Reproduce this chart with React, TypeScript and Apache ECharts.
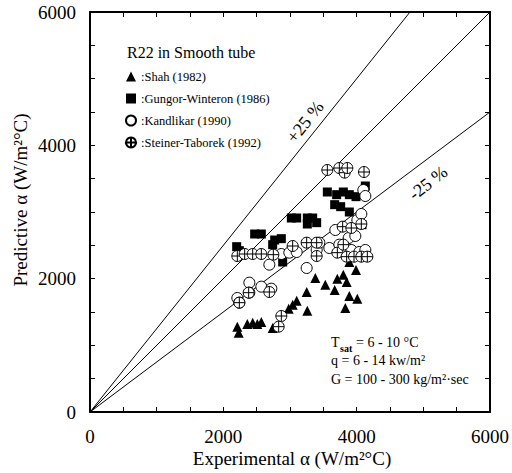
import React, { useEffect, useRef } from 'react';
import * as echarts from 'echarts';

const tickLabels = [0, 2000, 4000, 6000];

const shahX = [2210, 2230, 2360, 2440, 2510, 2570, 2740, 2800, 2980, 3040, 3100, 3250, 3260, 3380, 3530, 3670, 3710, 3800, 3850, 3830, 3890, 3990, 3890, 4010];
const shahY = [1280, 1190, 1320, 1340, 1320, 1350, 1260, 1280, 1550, 1610, 1670, 1800, 1520, 2010, 1910, 1830, 2000, 2060, 1950, 1560, 2250, 2130, 1740, 1700];

const gungorX = [2200, 2240, 2470, 2570, 2740, 2770, 2870, 2890, 3020, 3100, 3260, 3340, 3400, 3260, 3560, 3700, 3670, 3760, 3800, 3890, 3990, 3890, 4010, 4080, 4130];
const gungorY = [2480, 2420, 2670, 2670, 2510, 2580, 2600, 2250, 2910, 2910, 2910, 2910, 2840, 2820, 3300, 3260, 3110, 3080, 3300, 3260, 3230, 3000, 2820, 2810, 3390];

const kandX = [2210, 2240, 2390, 2390, 2570, 2720, 2690, 2870, 2990, 3100, 3250, 3400, 3440, 3590, 3680, 3740, 3800, 3880, 3920, 3980, 4010, 4070, 4040, 4130, 4100, 4130];
const kandY = [1710, 1640, 1940, 1790, 1880, 1850, 2210, 2370, 2390, 2400, 2160, 2430, 2540, 2460, 2730, 2510, 2400, 2610, 2430, 2640, 2880, 2970, 2400, 2430, 3330, 3240];

const steinerX = [2210, 2320, 2440, 2570, 2750, 2240, 2380, 2690, 2870, 2830, 3040, 3250, 3400, 3400, 3560, 3740, 3820, 3860, 4110, 3710, 3800, 3790, 3920, 3850, 3960, 4070, 4160, 4070];
const steinerY = [2340, 2370, 2370, 2370, 2360, 1640, 1790, 1800, 1440, 1280, 2490, 2540, 2540, 2340, 3630, 3660, 3590, 3660, 3600, 2390, 2510, 2780, 2760, 2330, 2330, 2330, 2330, 2820];

const seriesNames = ['Shah (1982)', 'Gungor-Winteron (1986)', 'Kandlikar (1990)', 'Steiner-Taborek (1992)'];
const lineFactors = [1, 1.25, 0.75];

const zip = (xs: number[], ys: number[]) => xs.map((x, i) => [x, ys[i]]);

export default function App() {
  const ref = useRef<HTMLDivElement>(null);
  useEffect(() => {
    const chart = echarts.init(ref.current!, null, { renderer: 'svg' });
    const fam = 'Liberation Serif';
    const font = 'Liberation Serif';
    const axisBase = (show: boolean, margin = 8) => ({
      type: 'value' as const,
      min: 0,
      max: 6000,
      interval: 500,
      axisLine: { show: true, onZero: false, lineStyle: { color: '#000', width: 2 } },
      axisTick: { show: true, inside: true, length: 5, lineStyle: { color: '#000', width: 1 } },
      splitLine: { show: false },
      axisLabel: {
        show,
        margin,
        color: '#000',
        fontFamily: fam,
        fontSize: 19,
        formatter: (v: number) => (tickLabels.includes(v) ? String(v) : ''),
      },
    });
    const refLines = lineFactors.map((f) => ({
      type: 'line',
      silent: true,
      symbol: 'none',
      lineStyle: { color: '#000', width: 1 },
      data: f >= 1 ? [[0, 0], [6000 / f, 6000]] : [[0, 0], [6000, 6000 * f]],
      z: 1,
    }));
    const ring = 'path://M12 2A10 10 0 1 1 11.99 2Z M12 2V22 M2 12H22';
    chart.setOption({
      animation: false,
      backgroundColor: '#fff',
      grid: { left: 90, top: 12, width: 401, height: 400 },
      xAxis: [
        { ...axisBase(true, 15), position: 'bottom' },
        { ...axisBase(false), position: 'top' },
      ],
      yAxis: [
        { ...axisBase(true, 14), position: 'left' },
        { ...axisBase(false), position: 'right' },
      ],
      legend: {
        data: seriesNames,
        orient: 'vertical',
        left: 125,
        top: 70,
        padding: 0,
        itemWidth: 10,
        itemHeight: 10,
        itemGap: 9,
        selectedMode: false,
        formatter: (n: string) => ':' + n,
        textStyle: { color: '#000', fontFamily: fam, fontSize: 12.5 },
      },
      series: [
        ...refLines,
        {
          name: seriesNames[0], type: 'scatter', symbol: 'triangle', symbolSize: 10,
          itemStyle: { color: '#000', opacity: 1 }, data: zip(shahX, shahY), z: 3,
        },
        {
          name: seriesNames[1], type: 'scatter', symbol: 'rect', symbolSize: 9,
          itemStyle: { color: '#000', opacity: 1 }, data: zip(gungorX, gungorY), z: 3,
        },
        {
          name: seriesNames[2], type: 'scatter', symbol: 'circle', symbolSize: 11,
          itemStyle: { color: '#fff', borderColor: '#000', borderWidth: 1, opacity: 1 }, data: zip(kandX, kandY), z: 4,
        },
        {
          name: seriesNames[3], type: 'scatter', symbol: ring, symbolSize: 11,
          itemStyle: { color: '#fff', borderColor: '#000', borderWidth: 1, opacity: 1 }, data: zip(steinerX, steinerY), z: 5,
        },
      ],
      graphic: [
        { type: 'text', x: 127, y: 52, style: { text: 'R22 in Smooth tube', font: `16px ${font}`, fill: '#000', verticalAlign: 'middle' } },
        { type: 'text', x: 305, y: 122, rotation: Math.atan(1.25), style: { text: '+25 %', font: `18px ${font}`, fill: '#000', align: 'center', verticalAlign: 'middle' } },
        { type: 'text', x: 428, y: 183, rotation: Math.atan(0.78), style: { text: '-25 %', font: `18px ${font}`, fill: '#000', align: 'center', verticalAlign: 'middle' } },
        { type: 'text', x: 331, y: 342, style: { text: 'T', font: `14px ${font}`, fill: '#000', verticalAlign: 'middle' } },
        { type: 'text', x: 340, y: 348, style: { text: 'sat', font: `bold 10px ${font}`, fill: '#000', verticalAlign: 'middle' } },
        { type: 'text', x: 356, y: 342, style: { text: '= 6 - 10 °C', font: `14px ${font}`, fill: '#000', verticalAlign: 'middle' } },
        { type: 'text', x: 331, y: 360, style: { text: 'q = 6 - 14 kw/m²', font: `14px ${font}`, fill: '#000', verticalAlign: 'middle' } },
        { type: 'text', x: 331, y: 379, style: { text: 'G = 100 - 300 kg/m²·sec', font: `14px ${font}`, fill: '#000', verticalAlign: 'middle' } },
        { type: 'text', x: 292, y: 458, style: { text: 'Experimental α (W/m²°C)', font: `19px ${font}`, fill: '#000', align: 'center', verticalAlign: 'middle' } },
        { type: 'text', x: 20, y: 200, rotation: Math.PI / 2, style: { text: 'Predictive α (W/m²°C)', font: `19px ${font}`, fill: '#000', align: 'center', verticalAlign: 'middle' } },
      ],
    });
    return () => chart.dispose();
  }, []);
  return <div ref={ref} style={{ position: 'fixed', left: 0, top: 0, width: 512, height: 473 }} />;
}
